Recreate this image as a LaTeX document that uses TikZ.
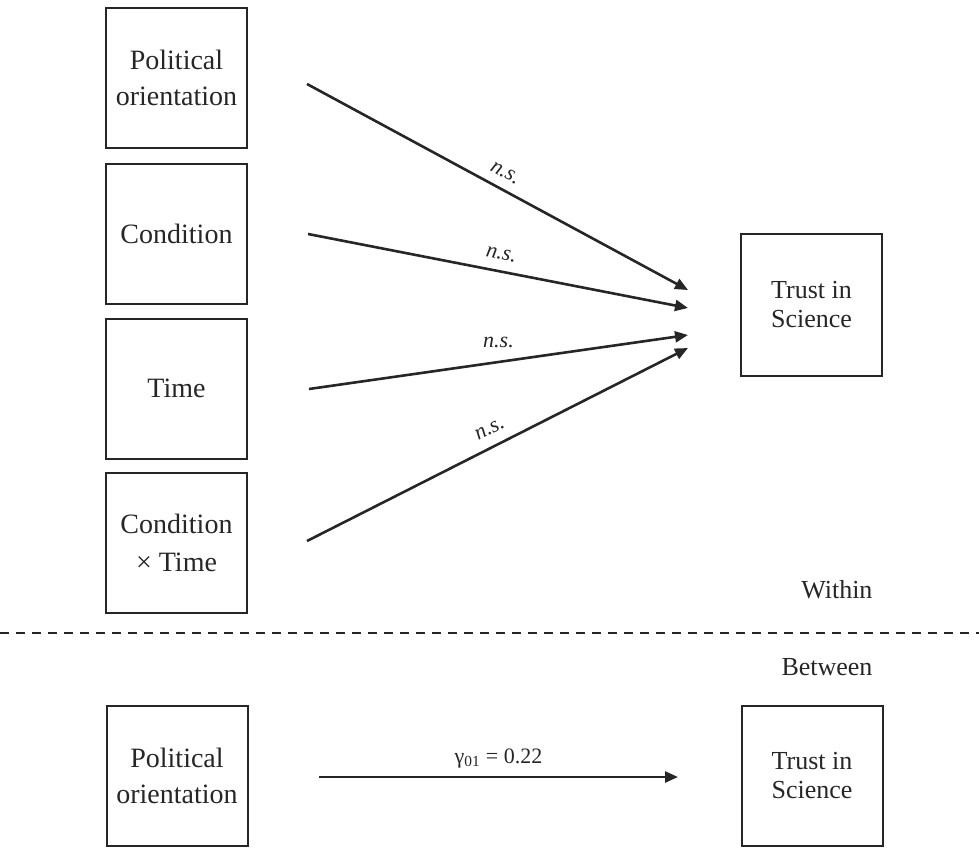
\documentclass[tikz,border=0pt]{standalone}
\usepackage{fontspec}
\setmainfont{Liberation Serif}
\usetikzlibrary{arrows.meta}

\begin{document}
\begin{tikzpicture}[x=1pt,y=-1pt,
                var/.style={draw=black!85,line width=2pt,minimum width=141pt,minimum height=140pt,inner sep=0pt,align=center,text=black!85,font=\fontsize{28}{36}\selectfont},
                outcome/.style={var,minimum height=142pt,font=\fontsize{26}{29}\selectfont},
                path/.style={draw=black!85,line width=2.6pt,-{Triangle[length=13pt,width=11pt]}},
                coef/.style={text=black!85,font=\fontsize{22}{26}\selectfont\itshape},
                level/.style={anchor=east,text=black!85,font=\fontsize{26}{30}\selectfont}
            ]
                \useasboundingbox (0,0) rectangle (979,848);
                % within level
                \node[var] (pol) at (176.5,78) {Political\\orientation};
                \node[var] (cond) at (176.5,234) {Condition};
                \node[var] (time) at (176.5,388.5) {Time};
                \node[var,font=\fontsize{28}{38}\selectfont] (condtime) at (176.5,543) {Condition\\× Time};
                \node[outcome] (trust) at (811.5,305) {Trust in\\Science};

                \coordinate (s1) at (307,84);
                \coordinate (s2) at (308,234);
                \coordinate (s3) at (309,389);
                \coordinate (s4) at (307,541);
                \coordinate (e1) at (688,290);
                \coordinate (e2) at (688,308);
                \coordinate (e3) at (688,335);
                \coordinate (e4) at (688,348);
                \draw[path] (s1) -- node[coef,above=6pt,sloped] {n.s.} (e1);
                \draw[path] (s2) -- node[coef,above=7pt,sloped] {n.s.} (e2);
                \draw[path] (s3) -- node[coef,above=10pt] {n.s.} (e3);
                \draw[path] (s4) -- node[coef,above=7pt,sloped] {n.s.} (e4);

                \node[level] (within) at (876,590) {Within};
                \coordinate (divL) at (0,633);
                \coordinate (divR) at (979,633);
                \draw[draw=black!85,line width=2.6pt,dash pattern=on 9pt off 7pt] (divL) -- (divR);
                \node[level] (between) at (876,667) {Between};

                % between level
                \node[var] (bpol) at (177,776) {Political\\orientation};
                \node[outcome,minimum height=140pt] (btrust) at (812,776) {Trust in\\Science};
                \coordinate (b1) at (319,777);
                \coordinate (b2) at (678,777);
                \draw[path] (b1) -- node[above=4pt,text=black!85,font=\fontsize{22}{26}\selectfont] {γ\textsubscript{01} = 0.22} (b2);

            \end{tikzpicture}
\end{document}
